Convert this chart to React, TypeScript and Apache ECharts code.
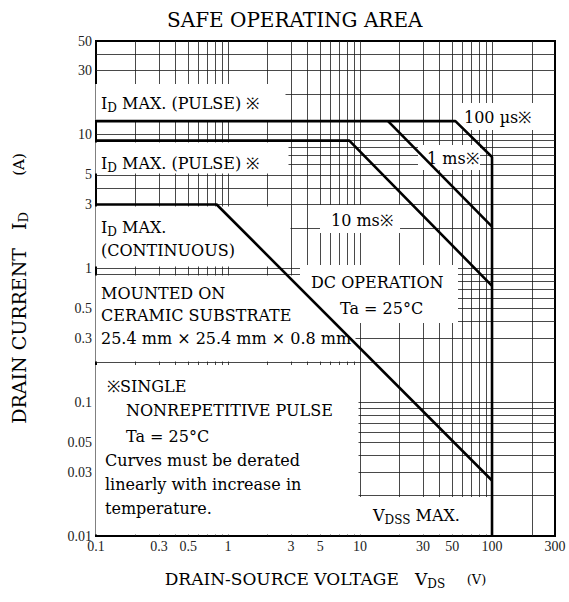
import React, { useEffect, useRef } from 'react';
import * as echarts from 'echarts';

// grid (log paper) line positions
const xGridLines = [0.2, 0.3, 0.4, 0.5, 0.6, 0.7, 0.8, 0.9, 1, 2, 3, 4, 5, 6, 7, 8, 9, 10, 20, 30, 40, 50, 60, 70, 80, 90, 100, 200];
const yGridLines = [0.02, 0.03, 0.04, 0.05, 0.06, 0.07, 0.08, 0.09, 0.1, 0.2, 0.3, 0.4, 0.5, 0.6, 0.7, 0.8, 0.9, 1, 2, 3, 4, 5, 6, 7, 8, 9, 10, 20, 30, 40];

// tick labels
const xTickLabels = ['0.1', '0.3', '0.5', '1', '3', '5', '10', '30', '50', '100', '300'];
const yTickLabels = ['0.01', '0.03', '0.05', '0.1', '0.3', '0.5', '1', '3', '5', '10', '30', '50'];

// SOA boundary curves [V_DS, I_D]
const pulse100us = [[0.1, 12.6], [52.8, 12.6], [100, 6.8], [100, 0.01]];
const pulse1ms = [[16.3, 12.6], [100, 2.05]];
const pulse10ms = [[0.1, 9], [8.3, 9], [100, 0.74]];
const dcOperation = [[0.1, 3], [0.82, 3], [100, 0.026]];

const SERIF = '"DejaVu Serif", "Liberation Serif", serif';
const TICKFONT = '"Liberation Serif", serif';

const sub = { fontSize: 12, lineHeight: 12, verticalAlign: 'bottom', fontFamily: SERIF };

const whiteBoxes = [
  [95.5, 84, 190, 36],
  [95.5, 142.5, 193, 31],
  [95.5, 206.5, 195, 60],
  [95.5, 275.5, 260, 86],
  [300, 265, 158, 58],
  [95.5, 365, 263, 169.5],
  [360, 497, 131, 37.5],
  [320, 205, 80, 28],
  [418, 145, 62, 25],
  [457, 103, 80, 27],
];

const notes: [string, number, number][] = [
  ['I{s|D} MAX. (PULSE) ※', 101, 103],
  ['I{s|D} MAX. (PULSE) ※', 101, 163],
  ['I{s|D} MAX.', 101, 227],
  ['(CONTINUOUS)', 101, 250],
  ['MOUNTED ON', 101, 293],
  ['CERAMIC SUBSTRATE', 101, 315],
  ['25.4 mm × 25.4 mm × 0.8 mm', 101, 338],
  ['※SINGLE', 107, 386],
  ['NONREPETITIVE PULSE', 126, 410],
  ['Ta = 25°C', 126, 436],
  ['Curves must be derated', 105, 460],
  ['linearly with increase in', 105, 484],
  ['temperature.', 105, 508],
  ['DC OPERATION', 311, 282],
  ['Ta = 25°C', 340, 308],
  ['10 ms※', 331, 220],
  ['1 ms※', 427, 158],
  ['100 µs※', 464, 117],
  ['V{s|DSS} MAX.', 373, 515],
];

export default function App() {
  const ref = useRef<HTMLDivElement>(null);
  useEffect(() => {
    const chart = echarts.init(ref.current!, null, { renderer: 'svg' });
    const curve = (name: string, data: number[][]) => ({
      name,
      type: 'line',
      data,
      symbol: 'none',
      z: 20,
      lineStyle: { color: '#000', width: 2.6 },
    });
    chart.setOption({
      animation: false,
      backgroundColor: '#fff',
      title: {
        text: 'SAFE OPERATING AREA',
        left: 162,
        top: 5,
        textStyle: { fontFamily: SERIF, fontSize: 20, fontWeight: 'normal', color: '#000' },
      },
      grid: {
        left: 94, right: 14, top: 41, bottom: 66,
        show: true, borderColor: '#000', borderWidth: 2, backgroundColor: 'transparent',
      },
      xAxis: {
        type: 'log', logBase: 10, min: 0.1, max: 300,
        axisLabel: { show: false }, axisTick: { show: false }, axisLine: { show: false },
        splitLine: { show: false },
        name: '{a|DRAIN-SOURCE VOLTAGE   V}{s|DS}{a|    }{u|(V)}',
        nameLocation: 'middle', nameGap: 32,
        nameTextStyle: {
          fontFamily: SERIF, fontSize: 17, color: '#000', lineHeight: 22,
          rich: {
            a: { fontFamily: SERIF, fontSize: 17, color: '#000', lineHeight: 22 },
            s: { ...sub, color: '#000' },
            u: { fontFamily: SERIF, fontSize: 13, color: '#000', lineHeight: 22 },
          },
        },
      },
      yAxis: {
        type: 'log', logBase: 10, min: 0.01, max: 50,
        axisLabel: { show: false }, axisTick: { show: false }, axisLine: { show: false },
        splitLine: { show: false },
        name: '{a|DRAIN CURRENT   I}{s|D}{a|      }{u|(A)}',
        nameLocation: 'middle', nameGap: 66,
        nameTextStyle: {
          fontFamily: SERIF, fontSize: 19, color: '#000', lineHeight: 22,
          rich: {
            a: { fontFamily: SERIF, fontSize: 19, color: '#000', lineHeight: 22 },
            s: { ...sub, fontSize: 13, lineHeight: 13, color: '#000' },
            u: { fontFamily: SERIF, fontSize: 15, color: '#000', lineHeight: 22 },
          },
        },
      },
      series: [
        {
          name: 'grid',
          type: 'line',
          data: [],
          z: 1,
          silent: true,
          markLine: {
            z: 1,
            silent: true,
            symbol: 'none',
            animation: false,
            label: { show: false },
            lineStyle: { color: '#1a1a1a', width: 0.8, type: 'solid' },
            emphasis: { disabled: true },
            data: [
              ...xGridLines.map((v) => ({ xAxis: v })),
              ...yGridLines.map((v) => ({ yAxis: v })),
            ],
          },
        },
        {
          name: 'ticks',
          type: 'line',
          data: [],
          z: 1,
          silent: true,
          markLine: {
            z: 1,
            silent: true,
            symbol: 'none',
            animation: false,
            lineStyle: { color: 'transparent', width: 0 },
            emphasis: { disabled: true },
            data: [
              ...xTickLabels.map((t) => ({
                xAxis: Number(t),
                label: { show: true, position: 'start', formatter: t, distance: 3, fontFamily: TICKFONT, fontSize: 14, color: '#222' },
              })),
              ...yTickLabels.map((t) => ({
                yAxis: Number(t),
                label: { show: true, position: 'start', formatter: t, distance: 4, fontFamily: TICKFONT, fontSize: 14, color: '#222' },
              })),
            ],
          },
        },
        curve('100 µs', pulse100us),
        curve('1 ms', pulse1ms),
        curve('10 ms', pulse10ms),
        curve('DC', dcOperation),
      ],
      graphic: [
        ...whiteBoxes.map(([x, y, w, h]) => ({
          type: 'rect', z: 7, silent: true,
          shape: { x, y, width: w, height: h },
          style: { fill: '#fff' },
        })),
        ...notes.map(([text, x, y]) => ({
          type: 'text', z: 8, silent: true, x, y,
          style: {
            text, fill: '#000', fontFamily: SERIF, fontSize: 16, lineHeight: 22,
            align: 'left', verticalAlign: 'middle',
            rich: { s: { ...sub, fill: '#000' } },
          },
        })),
      ],
    });
    return () => chart.dispose();
  }, []);
  return <div ref={ref} style={{ position: 'fixed', left: 0, top: 0, width: 569, height: 602, background: '#fff' }} />;
}
